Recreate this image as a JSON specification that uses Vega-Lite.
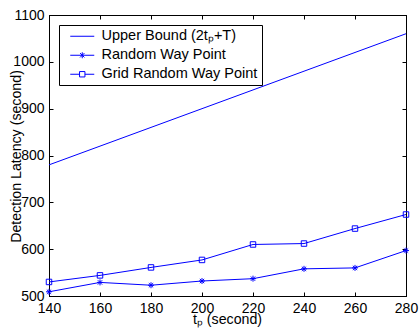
{
  "$schema": "https://vega.github.io/schema/vega-lite/v6.json",
  "autosize": "none",
  "padding": {"left": 49, "top": 15, "right": 13, "bottom": 33},
  "width": 357,
  "height": 281,
  "background": "white",
  "config": {
    "view": {"stroke": "black", "strokeWidth": 1},
    "font": "Liberation Sans",
    "axis": {
      "domainColor": "black",
      "tickColor": "black",
      "labelColor": "black",
      "titleColor": "black",
      "labelFont": "Liberation Sans",
      "titleFont": "Liberation Sans",
      "labelFontSize": 14,
      "titleFontSize": 14.2,
      "titleFontWeight": "normal",
      "grid": false,
      "tickSize": -4,
      "labelPadding": 9,
      "labelFlush": false,
      "labelOverlap": false,
      "format": "d"
    }
  },
  "data": {
    "values": [
      {"tp": 140, "latency": 780, "series": "Upper Bound (2tₚ+T)"},
      {"tp": 280, "latency": 1060, "series": "Upper Bound (2tₚ+T)"},
      {"tp": 140, "latency": 509, "series": "Random Way Point"},
      {"tp": 160, "latency": 529, "series": "Random Way Point"},
      {"tp": 180, "latency": 523, "series": "Random Way Point"},
      {"tp": 200, "latency": 532, "series": "Random Way Point"},
      {"tp": 220, "latency": 537, "series": "Random Way Point"},
      {"tp": 240, "latency": 558, "series": "Random Way Point"},
      {"tp": 260, "latency": 560, "series": "Random Way Point"},
      {"tp": 280, "latency": 597, "series": "Random Way Point"},
      {"tp": 140, "latency": 530, "series": "Grid Random Way Point"},
      {"tp": 160, "latency": 544, "series": "Grid Random Way Point"},
      {"tp": 180, "latency": 561, "series": "Grid Random Way Point"},
      {"tp": 200, "latency": 577, "series": "Grid Random Way Point"},
      {"tp": 220, "latency": 610, "series": "Grid Random Way Point"},
      {"tp": 240, "latency": 612, "series": "Grid Random Way Point"},
      {"tp": 260, "latency": 644, "series": "Grid Random Way Point"},
      {"tp": 280, "latency": 674, "series": "Grid Random Way Point"}
    ]
  },
  "layer": [
    {
      "mark": {"type": "line", "color": "#0000ff", "strokeWidth": 1},
      "encoding": {
        "x": {
          "field": "tp", "type": "quantitative",
          "scale": {"domain": [140, 280], "nice": false, "zero": false},
          "axis": {
            "orient": "bottom",
            "values": [140, 160, 180, 200, 220, 240, 260, 280],
            "title": "tₚ (second)",
            "titleX": 178, "titleY": 23, "titleBaseline": "middle", "titleAlign": "center"
          }
        },
        "y": {
          "field": "latency", "type": "quantitative",
          "scale": {"domain": [500, 1100], "nice": false, "zero": false},
          "axis": {
            "orient": "left",
            "values": [500, 600, 700, 800, 900, 1000, 1100],
            "title": "Detection Latency (second)",
            "titleX": -33, "titleY": 141, "titleAngle": -90,
            "titleBaseline": "middle", "titleAlign": "center"
          }
        },
        "detail": {"field": "series", "type": "nominal"}
      }
    },
    {
      "transform": [{"filter": "datum.series == 'Random Way Point'"}],
      "mark": {
        "type": "point", "filled": false, "color": "#0000ff", "strokeWidth": 1, "size": 36, "opacity": 1,
        "shape": "M-1,0H1M0,-1V1M-0.72,-0.72L0.72,0.72M-0.72,0.72L0.72,-0.72"
      },
      "encoding": {
        "x": {"field": "tp", "type": "quantitative", "axis": null},
        "y": {"field": "latency", "type": "quantitative", "axis": null}
      }
    },
    {
      "transform": [{"filter": "datum.series == 'Grid Random Way Point'"}],
      "mark": {"type": "point", "filled": false, "color": "#0000ff", "strokeWidth": 1, "size": 30, "opacity": 1, "shape": "square"},
      "encoding": {
        "x": {"field": "tp", "type": "quantitative", "axis": null},
        "y": {"field": "latency", "type": "quantitative", "axis": null}
      }
    },
    {
      "mark": {"type": "point", "filled": false, "color": "#0000ff", "strokeWidth": 1, "opacity": 0},
      "encoding": {
        "x": {
          "field": "tp", "type": "quantitative",
          "axis": {"orient": "top", "labels": false, "title": null, "values": [140, 160, 180, 200, 220, 240, 260, 280]}
        },
        "y": {
          "field": "latency", "type": "quantitative",
          "axis": {"orient": "right", "labels": false, "title": null, "values": [500, 600, 700, 800, 900, 1000, 1100]}
        },
        "shape": {
          "field": "series", "type": "nominal",
          "scale": {
            "domain": ["Upper Bound (2tₚ+T)", "Random Way Point", "Grid Random Way Point"],
            "range": [
              "M-2,0H2",
              "M-2,0H2M0,-0.5V0.5M-0.36,-0.36L0.36,0.36M-0.36,0.36L0.36,-0.36",
              "M-2,0H-0.45M0.45,0H2M-0.45,-0.45H0.45V0.45H-0.45Z"
            ]
          },
          "legend": {
            "orient": "none", "legendX": 10, "legendY": 10,
            "title": null,
            "strokeColor": "black", "fillColor": "white",
            "padding": 4,
            "symbolSize": 144,
            "symbolOpacity": 1,
            "symbolStrokeColor": "#0000ff",
            "symbolFillColor": "transparent",
            "symbolStrokeWidth": 1,
            "symbolOffset": 12,
            "labelOffset": 12,
            "labelFont": "Liberation Sans",
            "labelFontSize": 14.5,
            "labelColor": "black",
            "labelLimit": 300,
            "rowPadding": 4
          }
        }
      }
    }
  ],
  "resolve": {"axis": {"x": "independent", "y": "independent"}}
}
